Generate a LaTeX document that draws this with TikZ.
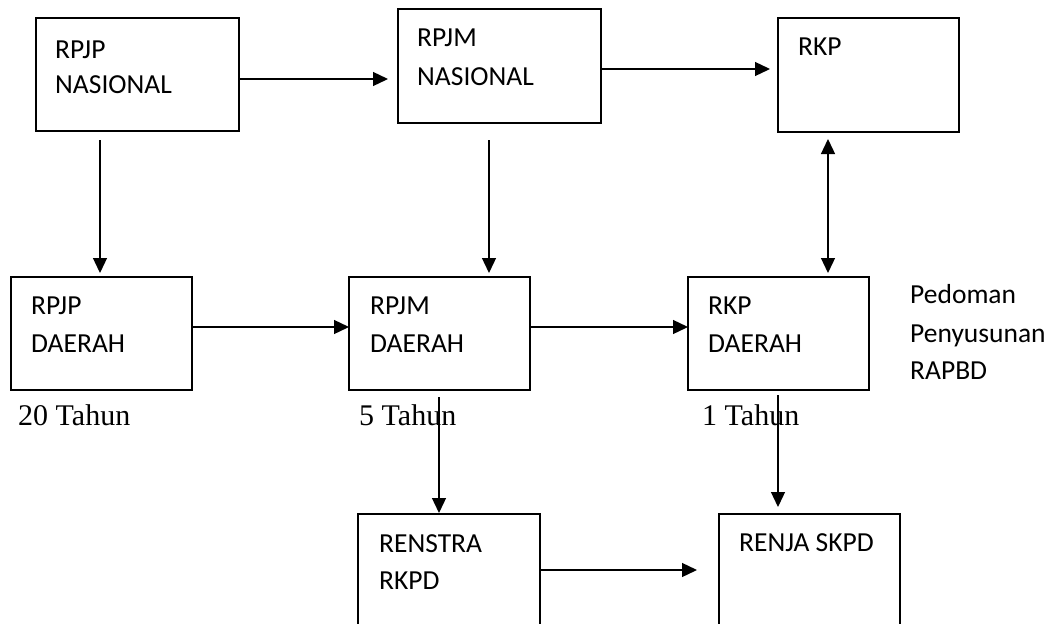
\documentclass[tikz,border=0pt]{standalone}
\usepackage{fontspec}
\setmainfont{Carlito}
\newfontfamily\tms{Liberation Serif}
\usetikzlibrary{arrows.meta}
\begin{document}
\begin{tikzpicture}[x=1pt,y=-1pt,
  box/.style={draw=black, line width=1.6pt, anchor=north west, inner sep=0pt, outer sep=0pt},
  txt/.style={anchor=base west, inner sep=0pt, font=\fontsize{27.5}{32}\selectfont},
  yr/.style={anchor=base west, inner sep=0pt, font=\tms\fontsize{30}{34}\selectfont},
  arr/.style={line width=1.3pt, -{Triangle[length=15pt,width=14pt]}},
  darr/.style={line width=1.3pt, {Triangle[length=15pt,width=14pt]}-{Triangle[length=15pt,width=14pt]}}]
\clip (0,0) rectangle (1050,624);
\fill[white] (0,0) rectangle (1050,624);
% boxes
\node[box, minimum width=203pt, minimum height=113pt] (b1) at (36,18) {};
\node[box, minimum width=203pt, minimum height=114pt] (b2) at (398,9) {};
\node[box, minimum width=181pt, minimum height=114pt] (b3) at (778,18) {};
\node[box, minimum width=181pt, minimum height=113pt] (b4) at (11,277) {};
\node[box, minimum width=181pt, minimum height=113pt] (b5) at (349,277) {};
\node[box, minimum width=181pt, minimum height=113pt] (b6) at (688,277) {};
\node[box, minimum width=182pt, minimum height=140pt] (b7) at (358,514) {};
\node[box, minimum width=181pt, minimum height=140pt] (b8) at (719,514) {};
% texts
\node[txt] (t1a) at (55,58) {RPJP};
\node[txt] (t1b) at (55,93) {NASIONAL};
\node[txt] (t2a) at (417,46) {RPJM};
\node[txt] (t2b) at (417,85) {NASIONAL};
\node[txt] (t3a) at (798,55) {RKP};
\node[txt] (t4a) at (31,314) {RPJP};
\node[txt] (t4b) at (31,352) {DAERAH};
\node[txt] (t5a) at (370,314) {RPJM};
\node[txt] (t5b) at (370,352) {DAERAH};
\node[txt] (t6a) at (708,314) {RKP};
\node[txt] (t6b) at (708,352) {DAERAH};
\node[txt] (t7a) at (379,552) {RENSTRA};
\node[txt] (t7b) at (379,589) {RKPD};
\node[txt] (t8a) at (739,551) {RENJA SKPD};
\node[txt] (p1) at (910,303) {Pedoman};
\node[txt] (p2) at (910,342) {Penyusunan};
\node[txt] (p3) at (910,379) {RAPBD};
\node[yr] (y1) at (18,425) {20 Tahun};
\node[yr] (y2) at (359,425) {5 Tahun};
\node[yr] (y3) at (702,425) {1 Tahun};
% connector end points
\coordinate (a1e) at (388,79);
\coordinate (a2e) at (770,69);
\coordinate (a3s) at (100,140);
\coordinate (a3e) at (100,273);
\coordinate (a4s) at (489,140);
\coordinate (a4e) at (489,273);
\coordinate (a5s) at (828,139);
\coordinate (a5e) at (828,273);
\coordinate (a8s) at (439,397);
\coordinate (a8e) at (439,513);
\coordinate (a9s) at (778,395);
\coordinate (a9e) at (778,507);
\coordinate (a10e) at (697,570);
% connectors
\draw[arr] (b1.east |- a1e) -- (a1e);
\draw[arr] (b2.east |- a2e) -- (a2e);
\draw[arr] (a3s) -- (a3e);
\draw[arr] (a4s) -- (a4e);
\draw[darr] (a5s) -- (a5e);
\draw[arr] (b4.east |- 0,327) -- (b5.west |- 0,327);
\draw[arr] (b5.east |- 0,327) -- (b6.west |- 0,327);
\draw[arr] (a8s) -- (a8e);
\draw[arr] (a9s) -- (a9e);
\draw[arr] (b7.east |- a10e) -- (a10e);
\end{tikzpicture}
\end{document}
